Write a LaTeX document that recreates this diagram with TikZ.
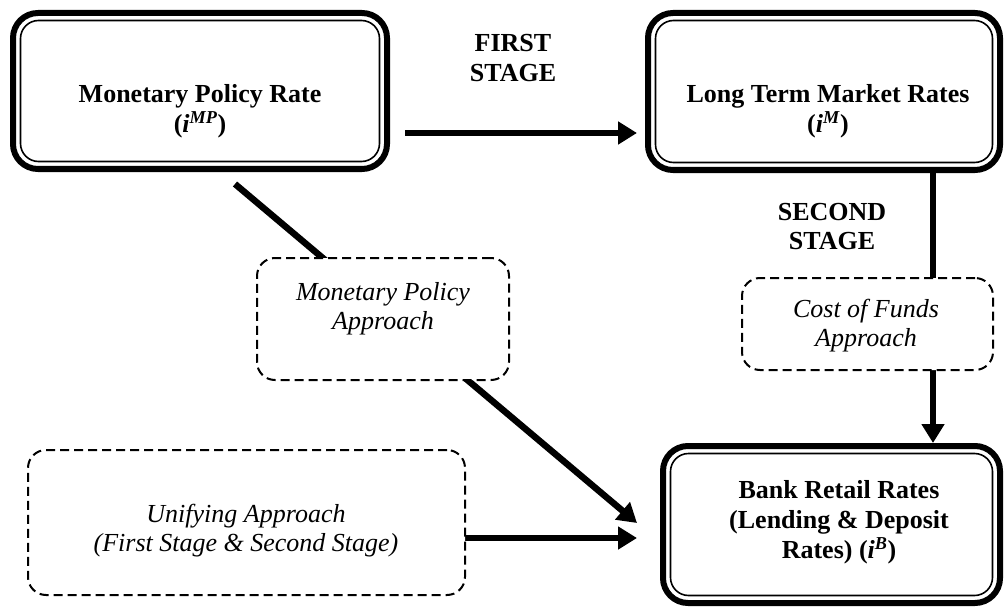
\documentclass[tikz,border=0pt]{standalone}
\usepackage{fontspec}
\setmainfont{Liberation Serif}
\usetikzlibrary{arrows.meta}
\pgfdeclarelayer{bg}
\pgfsetlayers{bg,main}
\begin{document}
\begin{tikzpicture}[x=1pt,y=-1pt,
 bigbox/.style={draw, line width=6pt, rounded corners=25pt, fill=white, inner sep=0pt, outer sep=0pt},
 innerline/.style={line width=1.6pt, rounded corners=18pt},
 dashbox/.style={draw, line width=2pt, dash pattern=on 9pt off 5pt, rounded corners=18pt, fill=white, inner sep=0pt, outer sep=0pt},
 boldtext/.style={font=\fontsize{26}{30}\selectfont\bfseries, align=center, inner sep=0pt},
 itext/.style={font=\fontsize{26}{29}\selectfont\itshape, align=center, inner sep=0pt},
 conn/.style={line width=6.5pt},
 arrow/.style={conn, -{Triangle[length=19pt,width=22pt]}}]
\useasboundingbox (0,0) rectangle (1004,607);

% boxes
\node[bigbox, minimum width=374pt, minimum height=156pt] (mp) at (200,91) {};
\node[bigbox, minimum width=352pt, minimum height=157pt] (lt) at (824,91.5) {};
\node[bigbox, minimum width=337pt, minimum height=157pt] (bank) at (831.5,524.5) {};
\foreach \n in {mp,lt,bank}
  \draw[innerline] ([shift={(7.5pt,-7.5pt)}]\n.north west) rectangle ([shift={(-7.5pt,7.5pt)}]\n.south east);

\node[dashbox, minimum width=252pt, minimum height=122pt] (mpa) at (383,319) {};
\node[dashbox, minimum width=251pt, minimum height=92pt] (cof) at (867.5,324) {};
\node[dashbox, minimum width=437pt, minimum height=145pt] (ua) at (246.5,522.5) {};

% texts
\node[boldtext] (mpt) at (200,111) {Monetary Policy Rate\\(\textit{i}\textsuperscript{\textit{MP}})};
\node[boldtext] (ltt) at (828,111) {Long Term Market Rates\\(\textit{i}\textsuperscript{\textit{M}})};
\node[boldtext] (bankt) at (839,522) {Bank Retail Rates\\(Lending \& Deposit\\Rates) (\textit{i}\textsuperscript{\textit{B}})};
\node[boldtext] (first) at (513,58) {FIRST\\STAGE};
\node[boldtext, font=\fontsize{26}{29}\selectfont\bfseries] (second) at (832,227) {SECOND\\STAGE};
\node[itext] (mpat) at (383,309) {Monetary Policy\\Approach};
\node[itext] (coft) at (866,326) {Cost of Funds\\Approach};
\node[itext] (uat) at (246,531) {Unifying Approach\\(First Stage \& Second Stage)};

% connectors
\coordinate (d1) at (235,184);
\coordinate (d2) at (637,523);
\begin{pgfonlayer}{bg}
  \draw[arrow, shorten <=18pt, shorten >=11pt] ([yshift=-42pt]mp.east) -- ([yshift=-41.5pt]lt.west);
  \draw[arrow] (d1) -- (d2);
  \draw[arrow, shorten >=26pt] ([yshift=-15.5pt]ua.east) -- ([yshift=-13.5pt]bank.west);
  \draw[arrow, shorten >=3pt] ([xshift=109pt]lt.south) -- ([xshift=101.5pt]bank.north);
\end{pgfonlayer}
\end{tikzpicture}
\end{document}
